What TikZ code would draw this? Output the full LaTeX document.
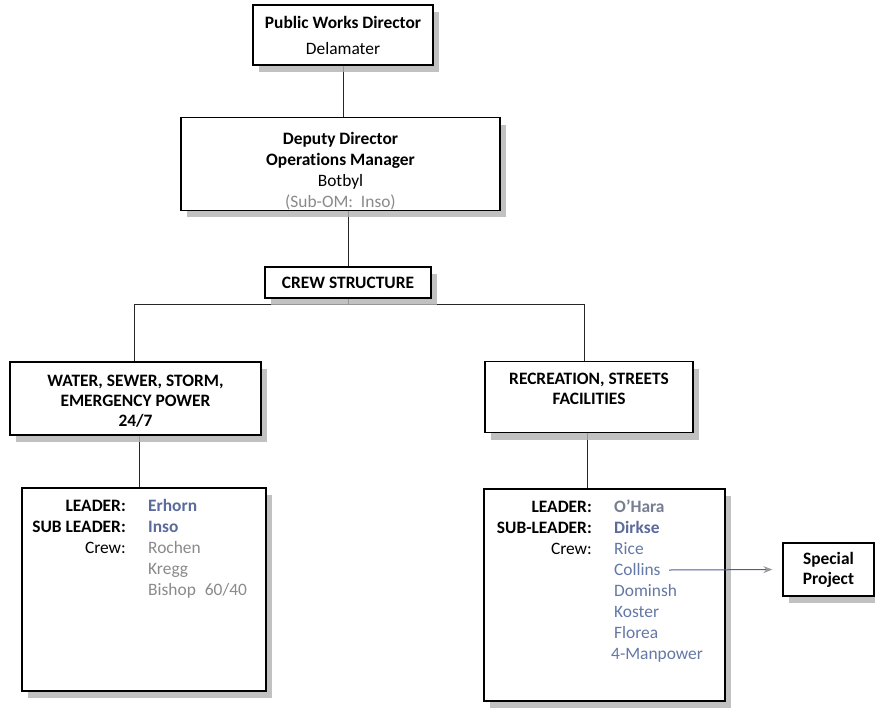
\documentclass[tikz,border=0pt]{standalone}
\usepackage{fontspec}
\setmainfont{Carlito}[Ligatures=NoCommon]
\usetikzlibrary{shadows,backgrounds,arrows.meta}
\definecolor{namegray}{HTML}{8A8A8A}
\definecolor{nameblue}{HTML}{5A6B9C}
\definecolor{crewblue}{HTML}{6478A6}
\definecolor{arrowblue}{HTML}{4A5E9A}
\tikzset{
  orgbox/.style={draw=black, line width=1.3pt, fill=white, align=center, inner sep=0pt,
    drop shadow={shadow xshift=6pt, shadow yshift=-7pt, fill=black!30, opacity=0.8},
    font=\fontsize{17.4}{21}\selectfont},
  link/.style={draw=black!85, line width=0.8pt},
  listtext/.style={inner sep=0pt, font=\fontsize{17.4}{21}\selectfont},
}
\begin{document}
\begin{tikzpicture}[x=1pt,y=-1pt]
\useasboundingbox (0,0) rectangle (875,707);

% management boxes
\node[orgbox, minimum width=180pt, minimum height=60pt] (pwd) at (343,35)
  {\textbf{Public Works Director}\\[5pt]Delamater};
\node[orgbox, minimum width=319pt, minimum height=88pt] (dep) at (340.5,164)
  {\rule{0pt}{27pt}\textbf{Deputy Director}\\\textbf{Operations Manager}\\Botbyl\\\textcolor{namegray}{(Sub-OM:\ \ Inso)}};
\node[orgbox, minimum width=166pt, minimum height=31pt] (crew) at (348,282.5)
  {\textbf{CREW STRUCTURE}};

% divisions
\node[orgbox, minimum width=251pt, minimum height=73pt, font=\fontsize{17.4}{20}\selectfont] (wss) at (135.5,398.5)
  {\rule{0pt}{17pt}\textbf{WATER, SEWER, STORM,}\\\textbf{EMERGENCY POWER}\\\textbf{24/7}};
\node[orgbox, minimum width=208pt, minimum height=71pt, font=\fontsize{17.4}{20}\selectfont] (rec) at (589,397)
  {\rule{0pt}{21pt}\textbf{RECREATION, STREETS}\\\textbf{FACILITIES}\\\strut};

% crew boxes
\node[orgbox, minimum width=244pt, minimum height=203pt] (wcrew) at (144,589.5) {};
\node[orgbox, minimum width=241pt, minimum height=212pt] (rcrew) at (604.5,595) {};
\node[orgbox, minimum width=91pt, minimum height=53pt, font=\fontsize{17.4}{20}\selectfont] (sp) at (828.5,569.5)
  {\textbf{Special}\\\textbf{Project}};

% water / sewer crew list
\node[listtext, anchor=base east] (wlabels) at (126,511)
  {\begin{tabular}[t]{@{}r@{}}\textbf{LEADER:}\\\textbf{SUB LEADER:}\\Crew:\end{tabular}};
\node[listtext, anchor=base west] (wnames) at (148,511)
  {\begin{tabular}[t]{@{}l@{}}\textcolor{nameblue}{\textbf{Erhorn}}\\\textcolor{nameblue}{\textbf{Inso}}\\
   \textcolor{namegray}{Rochen}\\\textcolor{namegray}{Kregg}\\\textcolor{namegray}{Bishop\hspace{9pt}60/40}\end{tabular}};

% recreation / streets crew list
\node[listtext, anchor=base east] (rlabels) at (592,512)
  {\begin{tabular}[t]{@{}r@{}}\textbf{LEADER:}\\\textbf{SUB-LEADER:}\\Crew:\end{tabular}};
\node[listtext, anchor=base west] (rnames) at (614,512)
  {\begin{tabular}[t]{@{}l@{}}\textcolor{namegray!60!nameblue}{\textbf{O'Hara}}\\\textcolor{nameblue}{\textbf{Dirkse}}\\
   \textcolor{crewblue}{Rice}\\\textcolor{crewblue}{Collins}\\\textcolor{crewblue}{Dominsh}\\
   \textcolor{crewblue}{Koster}\\\textcolor{crewblue}{Florea}\\\hspace{-3pt}\textcolor{crewblue}{4-Manpower}\end{tabular}};
\coordinate (collinsend) at (669,570);

% connectors
\begin{scope}[on background layer]
  \draw[link] (pwd.south) -- (pwd.south |- dep.north);
  \draw[link] (crew.north |- dep.south) -- (crew.north);
  \coordinate (lsplit) at (134,304);
  \coordinate (rsplit) at (584,304);
  \draw[link] (crew.south) -- (crew.south |- lsplit);
  \draw[link] (lsplit |- wss.north) -- (lsplit) -- (rsplit) -- (rsplit |- rec.north);
  \coordinate (ldrop) at (139,440);
  \coordinate (rdrop) at (587,440);
  \draw[link] (ldrop |- wss.south) -- (ldrop |- wcrew.north);
  \draw[link] (rdrop |- rec.south) -- (rdrop |- rcrew.north);
\end{scope}
\draw[arrowblue, line width=1pt, shorten >=10pt,
  -{Stealth[length=9pt, width=7pt, color=gray!80]}] (collinsend) -- (sp.west);
\end{tikzpicture}
\end{document}
